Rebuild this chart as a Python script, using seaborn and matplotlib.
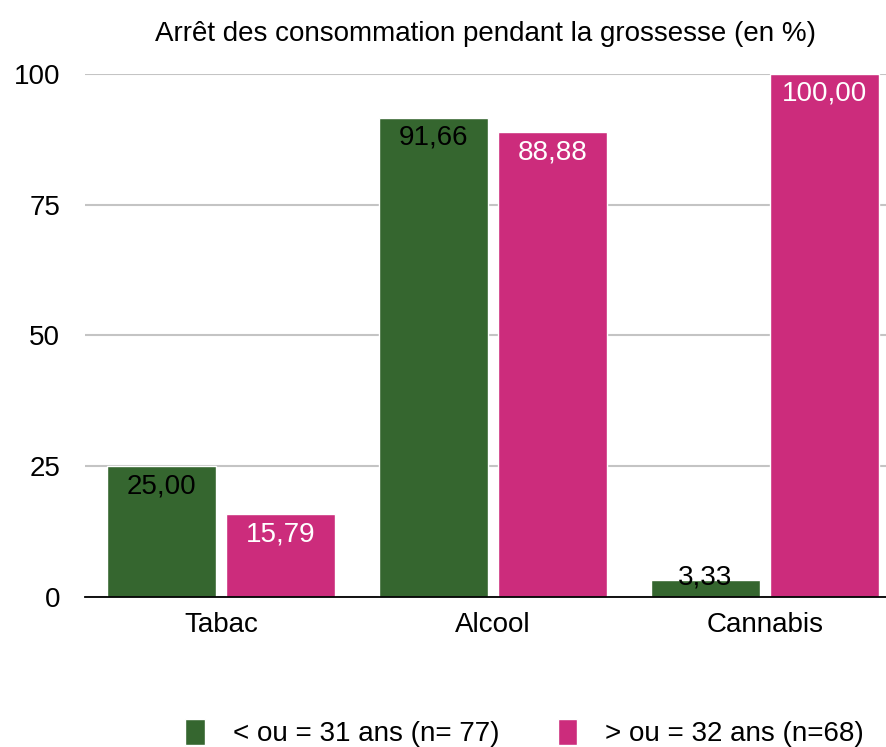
import pandas as pd
import matplotlib.pyplot as plt
import seaborn as sns

# Données du graphique
categories = ["Tabac", "Alcool", "Cannabis"]
groupes = ["< ou = 31 ans (n= 77)", "> ou = 32 ans (n=68)"]
jeunes = [25.00, 91.66, 3.33]
ages = [15.79, 88.88, 100.00]

df = pd.DataFrame({
    "cat": categories * 2,
    "groupe": [groupes[0]] * 3 + [groupes[1]] * 3,
    "val": jeunes + ages,
})

sns.set_style("white")
plt.rcParams["font.family"] = ["Liberation Sans", "DejaVu Sans"]
plt.rcParams["text.color"] = "black"
plt.rcParams["xtick.color"] = "black"
plt.rcParams["ytick.color"] = "black"

fig = plt.figure(figsize=(8.86, 7.47), dpi=100)
ax = fig.add_axes([0.096, 0.2008, 0.904, 0.7002])

couleurs = ["#35662F", "#CC2C7C"]
sns.barplot(data=df, x="cat", y="val", hue="groupe", palette=couleurs,
            width=0.875, gap=0.085, saturation=1, ax=ax, zorder=3)

ax.set_ylim(0, 100)
ax.set_xlim(-0.5, 2.445)
ax.set_yticks([0, 25, 50, 75, 100])
ax.yaxis.grid(True, color="#c4c4c4", linewidth=1.5, zorder=0)
ax.set_axisbelow(True)
for s in ["top", "right", "left"]:
    ax.spines[s].set_visible(False)
ax.spines["bottom"].set_color("black")
ax.spines["bottom"].set_linewidth(1.3)
ax.spines["bottom"].set_zorder(4)
ax.tick_params(axis="y", length=0, pad=18, labelsize=20)
ax.tick_params(axis="x", length=0, pad=11, labelsize=20)
ax.set_xlabel("")
ax.set_ylabel("")
ax.set_title("Arrêt des consommation pendant la grossesse (en %)",
             fontsize=20, pad=24)

# Étiquettes de valeurs
txt_col = ["black", "white"]
for cont, c in zip(ax.containers, txt_col):
    for bar in cont:
        v = bar.get_height()
        x = bar.get_x() + bar.get_width() / 2
        lab = f"{v:.2f}".replace(".", ",")
        if v > 10:
            ax.annotate(lab, (x, v), xytext=(0, -5), textcoords="offset points",
                        ha="center", va="top", fontsize=20, color=c, zorder=5)
        else:
            ax.annotate(lab, (x, 0), xytext=(0, 5), textcoords="offset points",
                        ha="center", va="bottom", fontsize=20, color=c, zorder=5)

handles, labels = ax.get_legend_handles_labels()
ax.legend_.remove()
fig.legend(handles, labels, loc="center", bbox_to_anchor=(0.592, 0.0187),
           ncol=2, frameon=False, fontsize=20, handlelength=0.7, handleheight=1.1,
           handletextpad=1.0, columnspacing=2.1, borderpad=0, borderaxespad=0)

fig.savefig("out.png", dpi=100)
